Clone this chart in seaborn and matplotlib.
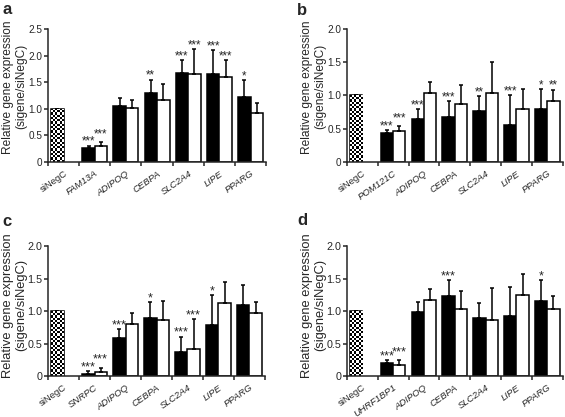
import matplotlib
matplotlib.use("Agg")
import matplotlib.pyplot as plt
import numpy as np
import pandas as pd
import seaborn as sns
from matplotlib.ticker import FixedLocator

# ── Datos ──────────────────────────────────────────────────────────
# si1 = barras negras, si2 = barras blancas; el primer valor de si1 es siNegC
genes_a = ["siNegC", "FAM13A", "ADIPOQ", "CEBPA", "SLC2A4", "LIPE", "PPARG"]
si1_a = [1.00, 0.26, 1.06, 1.30, 1.68, 1.66, 1.22]
si1_err_a = [0.00, 0.05, 0.14, 0.25, 0.24, 0.45, 0.32]
si2_a = [0.31, 1.01, 1.17, 1.65, 1.60, 0.92]
si2_err_a = [0.06, 0.16, 0.29, 0.47, 0.31, 0.18]
stars1_a = ["", "***", "", "**", "***", "***", "*"]
stars2_a = ["***", "", "", "***", "***", ""]

genes_b = ["siNegC", "POM121C", "ADIPOQ", "CEBPA", "SLC2A4", "LIPE", "PPARG"]
si1_b = [1.00, 0.43, 0.65, 0.67, 0.76, 0.55, 0.80]
si1_err_b = [0.00, 0.05, 0.15, 0.25, 0.23, 0.45, 0.30]
si2_b = [0.47, 1.03, 0.87, 1.04, 0.79, 0.91]
si2_err_b = [0.07, 0.17, 0.29, 0.47, 0.31, 0.18]
stars1_b = ["", "***", "***", "***", "**", "***", "*"]
stars2_b = ["***", "", "", "", "", "**"]

genes_c = ["siNegC", "SNRPC", "ADIPOQ", "CEBPA", "SLC2A4", "LIPE", "PPARG"]
si1_c = [1.00, 0.03, 0.58, 0.89, 0.37, 0.79, 1.10]
si1_err_c = [0.00, 0.05, 0.15, 0.25, 0.24, 0.46, 0.31]
si2_c = [0.06, 0.81, 0.86, 0.41, 1.13, 0.97]
si2_err_c = [0.07, 0.17, 0.30, 0.47, 0.32, 0.18]
stars1_c = ["", "***", "***", "*", "***", "*", ""]
stars2_c = ["***", "", "", "***", "", ""]

genes_d = ["siNegC", "UHRF1BP1", "ADIPOQ", "CEBPA", "SLC2A4", "LIPE", "PPARG"]
si1_d = [1.00, 0.20, 0.99, 1.23, 0.89, 0.92, 1.16]
si1_err_d = [0.00, 0.04, 0.16, 0.25, 0.24, 0.46, 0.32]
si2_d = [0.175, 1.18, 1.03, 0.87, 1.25, 1.04]
si2_err_d = [0.065, 0.17, 0.29, 0.49, 0.32, 0.19]
stars1_d = ["", "***", "", "***", "", "", "*"]
stars2_d = ["***", "", "", "", "", ""]

sns.set_style("ticks")
plt.rcParams["font.family"] = ["Liberation Sans", "DejaVu Sans"]


def draw_panel(ax, genes, si1, si1_err, si2, si2_err, stars1, stars2, ymax, fs, label_y):
    df = pd.DataFrame({
        "gene": genes + genes[1:],
        "siRNA": ["si1"] * len(si1) + ["si2"] * len(si2),
        "expr": si1 + si2,
    })
    sns.barplot(data=df, x="gene", y="expr", hue="siRNA", order=genes,
                hue_order=["si1", "si2"], palette={"si1": "black", "si2": "white"},
                saturation=1, errorbar=None, edgecolor="black", linewidth=1.1,
                width=0.8, legend=False, ax=ax)
    ax.set_ylim(0, ymax)
    ax.set_xlim(-0.5, len(genes) - 0.5)

    # barras de error (solo hacia arriba) y asteriscos
    caps1 = [v + e for v, e in zip(si1, si1_err)]
    for k, (bars, errs, stars) in enumerate([(ax.containers[0], si1_err, stars1),
                                             (ax.containers[1], si2_err, stars2)]):
        bars = sorted(bars, key=lambda p: p.get_x())
        xs = [p.get_x() + p.get_width() / 2 for p in bars]
        hs = [p.get_height() for p in bars]
        ax.errorbar(xs, hs, yerr=[np.zeros(len(errs)), errs], fmt="none",
                    ecolor="black", elinewidth=1.1, capsize=1.6, capthick=1.1,
                    zorder=1)
        for i, (x, h, e, s) in enumerate(zip(xs, hs, errs, stars)):
            if not s:
                continue
            dy = 0.5
            # los asteriscos blancos se escalonan si chocan con los negros
            if k == 1 and len(stars1[i + 1]) == 3 and len(s) == 3 \
                    and abs(caps1[i + 1] - (h + e)) < 0.15:
                dy = 3.5
            ax.annotate(s, (x, h + e), xytext=(0, dy), textcoords="offset points",
                        ha="center", va="baseline", fontsize=8.4 * fs)

    # siNegC con patrón de tablero
    neg = sorted(ax.containers[0], key=lambda p: p.get_x())[0]
    neg.set_facecolor("white")
    x0, w, h = neg.get_x(), neg.get_width(), neg.get_height()
    p0 = ax.transData.transform((x0, 0))
    p1 = ax.transData.transform((x0 + w, h))
    ncol = max(2, int(round((p1[0] - p0[0]) / 2.2)))
    nrow = max(2, int(round((p1[1] - p0[1]) / 2.2)))
    board = (np.indices((nrow, ncol)).sum(axis=0) % 2).astype(float)
    img = ax.imshow(board, cmap="gray", extent=(x0, x0 + w, 0, h), aspect="auto",
                    interpolation="nearest", zorder=neg.get_zorder() + 0.1)
    img.set_clip_path(neg)
    ax.set_ylim(0, ymax)
    ax.set_xlim(-0.5, len(genes) - 0.5)

    # ejes
    sns.despine(ax=ax)
    for sp in ["left", "bottom"]:
        ax.spines[sp].set_linewidth(1.1)
    yt = np.arange(0, ymax + 0.01, 0.5)
    ax.set_yticks(yt)
    ax.set_yticklabels(["0"] + [f"{v:.1f}" for v in yt[1:]], fontsize=7.2 * fs)
    ax.tick_params(axis="y", length=3, width=1.1, pad=1)
    ax.xaxis.set_minor_locator(FixedLocator(np.arange(-0.5, len(genes), 1.0)))
    ax.tick_params(axis="x", which="major", length=0, pad=5)
    ax.tick_params(axis="x", which="minor", length=3, width=1.1)
    ax.set_xticks(range(len(genes)))
    ax.set_xticklabels(genes, rotation=35, ha="right", rotation_mode="anchor",
                       fontsize=6.8)
    for lbl in ax.get_xticklabels()[1:]:
        lbl.set_style("italic")
    ax.set_xlabel("")
    ax.set_ylabel("Relative gene expression\n(sigene/siNegC)", fontsize=8.6 * fs,
                  linespacing=1.1)
    ax.yaxis.set_label_coords(-0.097, label_y)


fig = plt.figure(figsize=(5.65, 4.17), dpi=100)
ax_a = fig.add_axes([0.085, 0.6115, 0.386, 0.319])
ax_b = fig.add_axes([0.614, 0.6115, 0.382, 0.319])
ax_c = fig.add_axes([0.085, 0.0983, 0.384, 0.3106])
ax_d = fig.add_axes([0.614, 0.0983, 0.382, 0.3106])

draw_panel(ax_a, genes_a, si1_a, si1_err_a, si2_a, si2_err_a, stars1_a, stars2_a, 2.5, 1.0, 0.565)
draw_panel(ax_b, genes_b, si1_b, si1_err_b, si2_b, si2_err_b, stars1_b, stars2_b, 2.0, 1.0, 0.565)
draw_panel(ax_c, genes_c, si1_c, si1_err_c, si2_c, si2_err_c, stars1_c, stars2_c, 2.0, 1.08, 0.545)
draw_panel(ax_d, genes_d, si1_d, si1_err_d, si2_d, si2_err_d, stars1_d, stars2_d, 2.0, 1.08, 0.545)

for x, y, s in [(0.004, 0.966, "a"), (0.526, 0.964, "b"),
                (0.004, 0.458, "c"), (0.526, 0.460, "d")]:
    fig.text(x, y, s, fontsize=12, fontweight="bold", va="baseline")

fig.savefig("out.png", dpi=100)
